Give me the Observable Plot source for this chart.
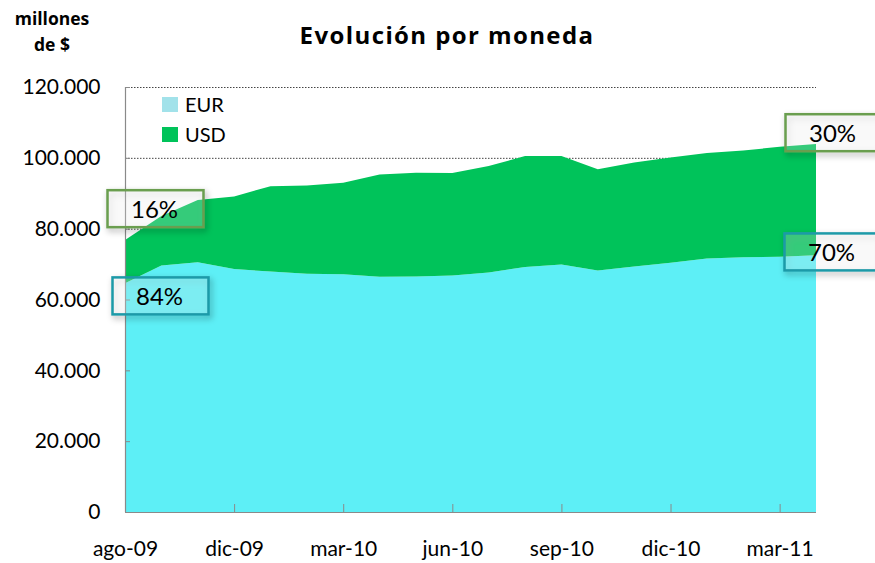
<!DOCTYPE html>
<html><head><meta charset="utf-8">
<script src="https://cdn.jsdelivr.net/npm/d3@7"></script>
<script src="https://cdn.jsdelivr.net/npm/@observablehq/plot@0.6"></script>
<style>
body{margin:0;background:#fff;font-family:Lato,sans-serif;color:#000;}
#wrap{position:relative;width:875px;height:563px;overflow:hidden;}
#unit{position:absolute;left:0;top:5px;width:104px;text-align:center;font-family:"Open Sans",sans-serif;font-weight:bold;font-size:17.5px;line-height:26px;z-index:2;}
#title{position:absolute;left:447px;top:18px;transform:translateX(-50%);white-space:nowrap;font-family:"Open Sans",sans-serif;font-weight:bold;font-size:24px;letter-spacing:1.4px;z-index:2;}
#legend{position:absolute;left:162px;top:89px;font-size:20px;line-height:30px;z-index:2;}
#legend div{display:flex;align-items:center;}
#legend span.sw{display:inline-block;width:16px;height:15px;margin-right:7px;}
#chart{position:absolute;left:0;top:0;}
</style>
</head><body>
<div id="wrap">
  <div id="unit">millones<br>de $</div>
  <div id="title">Evolución por moneda</div>
  <div id="legend"></div>
  <div id="chart"></div>
</div>
<script>
// ---- data ----
const categories = ["ago-09","oct-09","nov-09","dic-09","ene-10","feb-10","mar-10","abr-10","may-10","jun-10",
                    "jul-10","ago-10","sep-10","oct-10","nov-10","dic-10","ene-11","feb-11","mar-11","abr-11"];
const eur = [64600,69600,70500,68600,67900,67300,67100,66400,66500,66800,
             67600,69200,69900,68200,69300,70400,71600,71900,72100,72500];
const usd = [12200,14000,17600,20500,24100,24900,25900,28900,29300,28900,
             30100,31300,30600,28600,29400,29700,29800,30200,31000,31400];
const currencies = ["EUR","USD"];
const areaColors = ["#5DEFF6","#00C35A"];
const legendColors = ["#A2E2EA","#00C35A"];
const boxColors = ["#1E9AA8","#6A9E4F"];
const yTicks = [0,20000,40000,60000,80000,100000,120000];
const xTickIdx = [0,3,6,9,12,15,18];

// ---- build ----
const rows = [];
categories.forEach((c,i)=>{
  rows.push({i, currency:"EUR", value:eur[i]});
  rows.push({i, currency:"USD", value:usd[i]});
});
const last = categories.length-1;
const total = i => eur[i]+usd[i];
const pct = (v,i) => Math.round(v/total(i)*100) + "%";

const notes = [
  {i:0, y:total(0), text:pct(usd[0],0), cls:"note-usd", dx:29, dy:-30},
  {i:0, y:eur[0], text:pct(eur[0],0), cls:"note-eur", dx:34, dy:14},
  {i:last, y:total(last), text:pct(usd[last],last), cls:"note-usd", dx:16, dy:-10},
  {i:last, y:eur[last], text:pct(eur[last],last), cls:"note-eur", dx:15, dy:-2}
];

const fmt = d => d3.format(",")(d).replace(/,/g,".");

const chart = Plot.plot({
  width:875, height:563,
  marginTop:87, marginBottom:51, marginLeft:125, marginRight:59,
  style:{fontFamily:"Lato, sans-serif", fontSize:"21px", color:"#000", background:"white"},
  x:{type:"linear", domain:[0,last]},
  y:{domain:[0,120000]},
  color:{domain:currencies, range:areaColors},
  marks:[
    Plot.gridY(yTicks, {stroke:"#444", strokeOpacity:1, strokeWidth:1, strokeDasharray:"1.5,1.5"}),
    Plot.areaY(rows, {x:"i", y:"value", fill:"currency", order:currencies}),
    Plot.ruleX([0], {stroke:"#8a8a8a", strokeWidth:1.2}),
    Plot.ruleY([0], {stroke:"#8a8a8a", strokeWidth:1.2}),
    Plot.axisY({ticks:yTicks, tickFormat:fmt, tickSize:5, dx:5, tickPadding:25, fontSize:21, stroke:"#8a8a8a", fill:"#000", label:null}),
    Plot.axisX({ticks:xTickIdx, tickFormat:i=>categories[i], tickSize:8, dy:-8, tickPadding:29, fontSize:21, stroke:"#8a8a8a", fill:"#000", label:null}),
    ...notes.map(n => Plot.text([n], {x:"i", y:"y", text:"text", dx:n.dx, dy:n.dy, fontSize:24, fill:"#000", className:n.cls}))
  ]
});
document.getElementById("chart").appendChild(chart);

// drop shadow filter
const svg = d3.select(chart);
const defs = svg.insert("defs", ":first-child");
const f = defs.append("filter").attr("id","shadow").attr("x","-20%").attr("y","-30%").attr("width","150%").attr("height","180%");
f.append("feDropShadow").attr("dx",2).attr("dy",3).attr("stdDeviation",3).attr("flood-color","#000").attr("flood-opacity",0.35);

// boxes around the share labels, drawn just below the label texts
const svgRect = chart.getBoundingClientRect();
const firstNote = chart.querySelector("g.note-usd, g.note-eur");
const boxLayer = d3.select(chart.insertBefore(document.createElementNS("http://www.w3.org/2000/svg","g"), firstNote));
[["note-eur",boxColors[0]],["note-usd",boxColors[1]]].forEach(([cls,col])=>{
  svg.selectAll("g."+cls+" text").each(function(){
    const b = this.getBoundingClientRect();
    const cx = b.left - svgRect.left + b.width/2;
    const cy = b.top - svgRect.top + b.height/2;
    boxLayer.append("rect")
      .attr("x", cx-47).attr("y", cy-18.5).attr("width",96).attr("height",37)
      .attr("fill","rgba(255,255,255,0.18)").attr("stroke",col).attr("stroke-width",2.5)
      .attr("filter","url(#shadow)");
  });
});

// legend
const lg = d3.select("#legend");
currencies.forEach((c,k)=>{
  const row = lg.append("div");
  row.append("span").attr("class","sw").style("background",legendColors[k]);
  row.append("span").text(c);
});
</script>
</body></html>
